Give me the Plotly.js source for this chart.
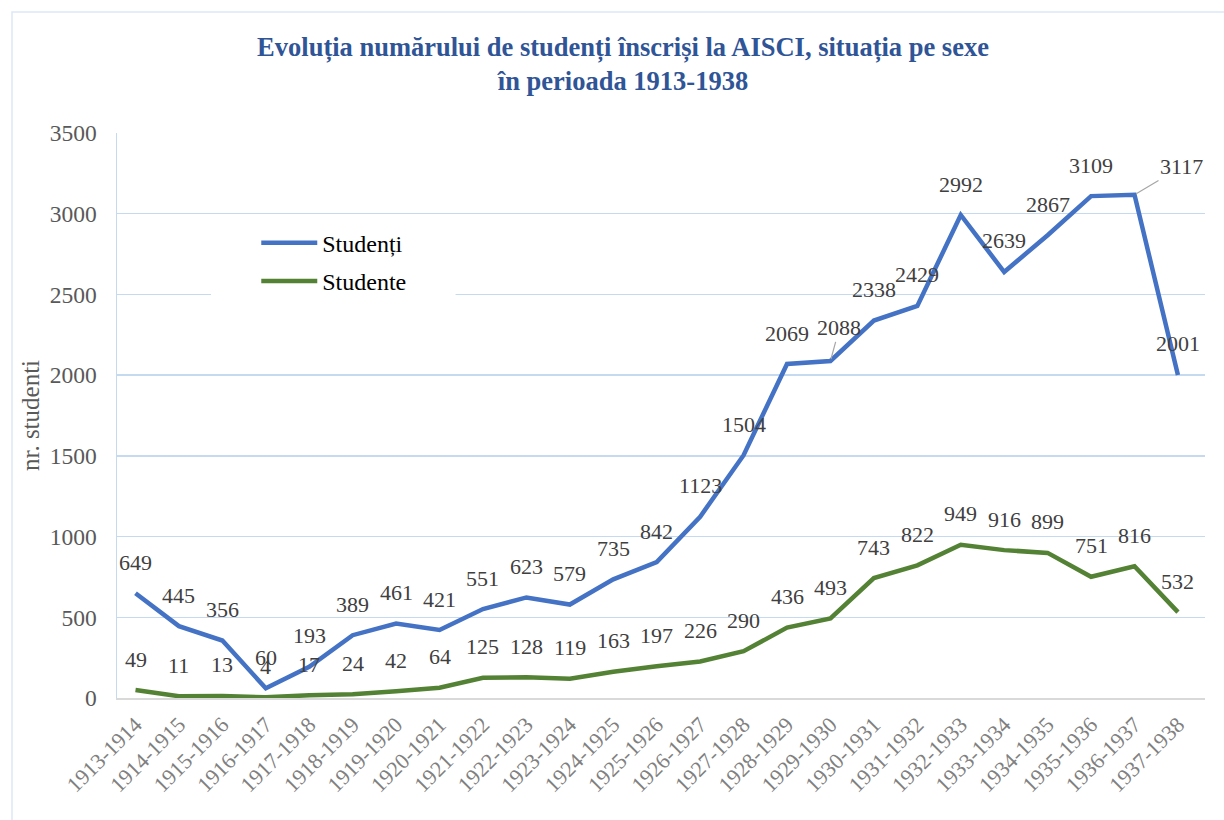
<!DOCTYPE html>
<html>
<head>
<meta charset="utf-8">
<script src="https://cdn.plot.ly/plotly-3.0.1.min.js"></script>
<style>
html,body{margin:0;padding:0;background:#fff;}
#chart{width:1224px;height:820px;}
</style>
</head>
<body>
<div id="chart"></div>
<script>
const categories = ["1913-1914","1914-1915","1915-1916","1916-1917","1917-1918","1918-1919","1919-1920","1920-1921","1921-1922","1922-1923","1923-1924","1924-1925","1925-1926","1926-1927","1927-1928","1928-1929","1929-1930","1930-1931","1931-1932","1932-1933","1933-1934","1934-1935","1935-1936","1936-1937","1937-1938"];
const studenti = [649,445,356,60,193,389,461,421,551,623,579,735,842,1123,1504,2069,2088,2338,2429,2992,2639,2867,3109,3117,2001];
const studente = [49,11,13,4,17,24,42,64,125,128,119,163,197,226,290,436,493,743,822,949,916,899,751,816,532];
const seriesNames = ["Studenți","Studente"];
const yTicks = [0,500,1000,1500,2000,2500,3000,3500];

const FONT = "Liberation Serif";
const BLUE = "#4472C4", GREEN = "#548235";

const traces = [
  {x: categories, y: studenti, name: seriesNames[0], type: "scatter", mode: "lines",
   line: {color: BLUE, width: 4.5}, legendgroup: "a", cliponaxis: false},
  {x: categories, y: studente, name: seriesNames[1], type: "scatter", mode: "lines",
   line: {color: GREEN, width: 4.5}, legendgroup: "b", cliponaxis: false}
];

// label leader lines (offsets in px) for a few labels moved away from their points
const leader = {"0:1936-1937": [47, -28], "0:1929-1930": [9, -33]};
const annotations = [];
[studenti, studente].forEach((vals, si) => {
  vals.forEach((v, i) => {
    const key = si + ":" + categories[i];
    const base = {x: categories[i], y: v, text: String(v), xref: "x", yref: "y",
      font: {family: FONT, size: 22, color: "#404040"}};
    if (leader[key]) {
      annotations.push(Object.assign(base, {showarrow: true, arrowhead: 0, arrowwidth: 1.2,
        arrowcolor: "#a6a6a6", ax: leader[key][0], ay: leader[key][1], standoff: 2}));
    } else {
      annotations.push(Object.assign(base, {showarrow: false, yshift: 31}));
    }
  });
});

const layout = {
  width: 1224, height: 820,
  font: {family: FONT},
  paper_bgcolor: "#ffffff", plot_bgcolor: "#ffffff",
  margin: {l: 117, r: 19, t: 133, b: 122},
  title: {
    text: "<b>Evoluția numărului de studenți înscriși la AISCI, situația pe sexe<br>în perioada 1913-1938</b>",
    font: {family: FONT, size: 26.5, color: "#2F5597"},
    x: 0.509, xanchor: "center", y: 0.932, yanchor: "middle", yref: "container"
  },
  showlegend: true,
  legend: {
    x: 0.128, xanchor: "left", y: 0.845, yanchor: "top",
    bgcolor: "rgba(255,255,255,0)", borderwidth: 0,
    font: {family: FONT, size: 24, color: "#000000"},
    itemwidth: 56, tracegroupgap: 4, traceorder: "grouped"
  },
  xaxis: {
    type: "category", tickangle: -45,
    tickfont: {family: FONT, size: 22, color: "#808080"},
    showline: true, linecolor: "#d9d9d9", linewidth: 2,
    showgrid: false, zeroline: false,
    ticks: "outside", ticklen: 3, tickcolor: "rgba(0,0,0,0)",
    automargin: false, fixedrange: true
  },
  yaxis: {
    range: [0, 3500], tickvals: yTicks, ticktext: yTicks.map(String),
    tickfont: {family: FONT, size: 23.5, color: "#595959"},
    showgrid: true, gridcolor: "#C5D9F1", gridwidth: 1.5,
    showline: true, linecolor: "#C5D9F1", linewidth: 1.5,
    zeroline: false,
    ticks: "outside", ticklen: 14, tickcolor: "rgba(0,0,0,0)",
    title: {text: "nr. studenti", font: {family: FONT, size: 25, color: "#595959"}, standoff: 3},
    automargin: false, fixedrange: true
  },
  shapes: [
    {type: "rect", xref: "paper", yref: "paper", x0: -0.0965, x1: 1.3, y0: -0.6, y1: 1.2142,
     line: {color: "#DCE8F6", width: 1.5}, fillcolor: "rgba(0,0,0,0)", layer: "below"},
    {type: "rect", xref: "paper", yref: "paper", x0: 0.0864, x1: 0.3112, y0: 0.705, y1: 0.842,
     line: {width: 0}, fillcolor: "#ffffff", layer: "above"}
  ],
  annotations: annotations
};

Plotly.newPlot("chart", traces, layout, {displayModeBar: false, staticPlot: true});
</script>
</body>
</html>
